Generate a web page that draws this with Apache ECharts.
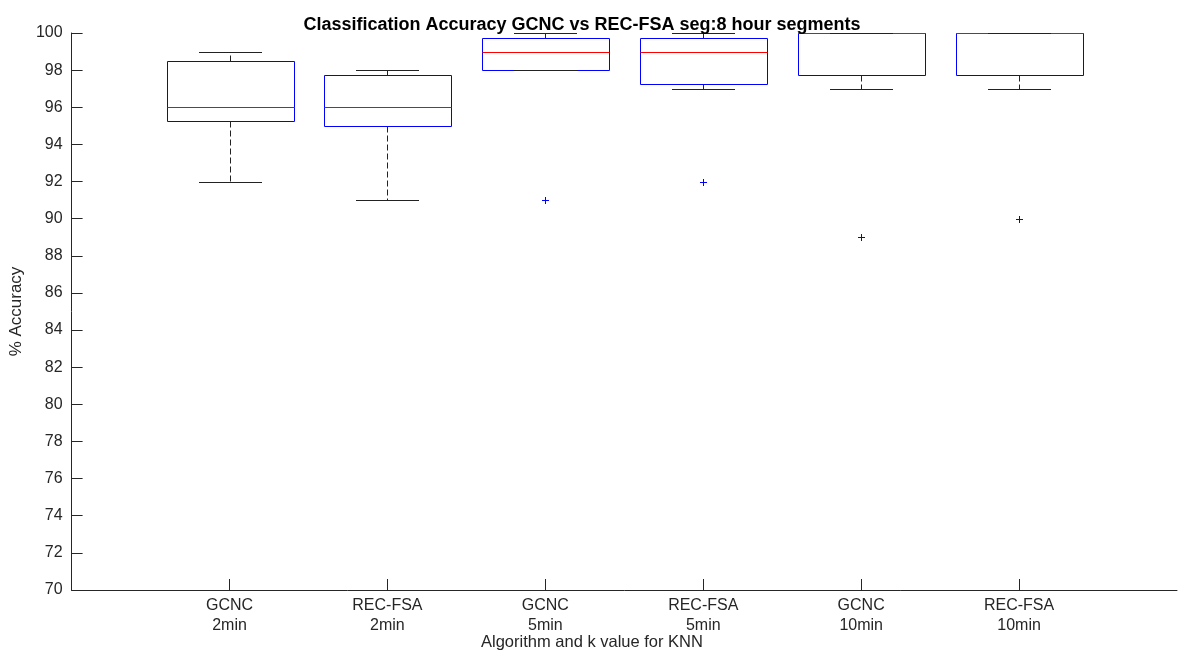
<!DOCTYPE html>
<html>
<head>
<meta charset="utf-8">
<script src="https://cdn.jsdelivr.net/npm/echarts@6/dist/echarts.min.js"></script>
<style>
html,body{margin:0;padding:0;background:#fff;}
#chart{width:1184px;height:665px;}
</style>
</head>
<body>
<div id="chart"></div>
<script>
const categories = ['GCNC\n2min', 'REC-FSA\n2min', 'GCNC\n5min', 'REC-FSA\n5min', 'GCNC\n10min', 'REC-FSA\n10min'];
const whiskerLow = [92, 91, 98, 97, 97, 97];
const q1 = [95.25, 95, 98, 97.25, 97.75, 97.75];
const median = [96, 96, 99, 99, 100, 100];
const q3 = [98.5, 97.75, 99.75, 99.75, 100, 100];
const whiskerHigh = [99, 98, 100, 100, 100, 100];
const outliers = [[], [], [91], [92], [89], [90]];
const yTicks = {min: 70, max: 100, interval: 2};

const axisCats = [''].concat(categories, ['']);
const FONT = '"Liberation Sans", Arial, Helvetica, sans-serif';
const TXT = '#262626';

const boxData = categories.map((c, i) => [i + 1, whiskerLow[i], q1[i], median[i], q3[i], whiskerHigh[i]]);
const outData = [];
outliers.forEach((arr, i) => arr.forEach(v => outData.push([i + 1, v])));

const px = (v) => Math.round(v) + 0.5;

const chart = echarts.init(document.getElementById('chart'), null, {renderer: 'canvas'});
chart.setOption({
  animation: false,
  backgroundColor: '#fff',
  title: {
    text: 'Classification Accuracy GCNC vs REC-FSA seg:8 hour segments',
    left: 577, top: 11, textAlign: 'center',
    textStyle: {fontFamily: FONT, fontSize: 18, fontWeight: 'bold', color: '#000'}
  },
  grid: {left: 69, right: 7, top: 33, bottom: 75, containLabel: false},
  xAxis: {
    type: 'category',
    data: axisCats,
    boundaryGap: false,
    axisLine: {show: true, lineStyle: {color: TXT, width: 1}},
    axisTick: {show: true, inside: true, length: 11, lineStyle: {color: TXT}, interval: (i) => i > 0 && i < axisCats.length - 1},
    axisLabel: {interval: 0, color: TXT, fontFamily: FONT, fontSize: 16, lineHeight: 20, margin: 6},
    splitLine: {show: false}
  },
  yAxis: {
    type: 'value',
    min: yTicks.min, max: yTicks.max, interval: yTicks.interval,
    name: '% Accuracy', nameLocation: 'middle', nameGap: 42, nameRotate: 90,
    nameTextStyle: {color: TXT, fontFamily: FONT, fontSize: 17},
    axisLine: {show: true, lineStyle: {color: TXT, width: 1}},
    axisTick: {show: true, inside: true, length: 11, lineStyle: {color: TXT}},
    axisLabel: {color: TXT, fontFamily: FONT, fontSize: 16, margin: 9},
    splitLine: {show: false}
  },
  graphic: [{
    type: 'text', left: 481, top: 634,
    style: {text: 'Algorithm and k value for KNN', fill: TXT, font: '16.5px ' + FONT}
  }],
  series: [{
    type: 'custom',
    data: boxData,
    encode: {x: 0, y: [1, 2, 3, 4, 5]},
    renderItem: function (params, api) {
      const x = api.value(0);
      const bw = api.size([1, 0])[0] * 0.8;
      const cx = px(api.coord([x, 0])[0]);
      const yLo = px(api.coord([x, api.value(1)])[1]);
      const yQ1 = px(api.coord([x, api.value(2)])[1]);
      const yMed = px(api.coord([x, api.value(3)])[1]);
      const yQ3 = px(api.coord([x, api.value(4)])[1]);
      const yHi = px(api.coord([x, api.value(5)])[1]);
      const l = px(cx - bw / 2), r = px(cx + bw / 2);
      const cap = bw / 4;
      const wStyle = {stroke: '#222', lineWidth: 1, lineDash: [6, 3]};
      const cStyle = {stroke: '#222', lineWidth: 1};
      return {
        type: 'group',
        children: [
          {type: 'rect', shape: {x: l, y: yQ3, width: r - l, height: yQ1 - yQ3}, style: {fill: 'none', stroke: '#0000ff', lineWidth: 1}},
          {type: 'line', shape: {x1: l, y1: yMed, x2: r, y2: yMed}, style: {stroke: '#ff0000', lineWidth: 1}},
          {type: 'line', shape: {x1: cx, y1: yQ3, x2: cx, y2: yHi}, style: wStyle},
          {type: 'line', shape: {x1: cx, y1: yQ1, x2: cx, y2: yLo}, style: wStyle},
          {type: 'line', shape: {x1: Math.round(cx - cap), y1: yHi, x2: Math.round(cx + cap), y2: yHi}, style: cStyle},
          {type: 'line', shape: {x1: Math.round(cx - cap), y1: yLo, x2: Math.round(cx + cap), y2: yLo}, style: cStyle}
        ]
      };
    }
  }, {
    type: 'custom',
    data: outData,
    encode: {x: 0, y: 1},
    renderItem: function (params, api) {
      const p = api.coord([api.value(0), api.value(1)]);
      const cx = px(p[0]), cy = px(p[1]);
      const h = 3;
      return {
        type: 'group',
        children: [
          {type: 'line', shape: {x1: cx - h - 0.5, y1: cy, x2: cx + h + 0.5, y2: cy}, style: {stroke: '#0000ff', lineWidth: 1}},
          {type: 'line', shape: {x1: cx, y1: cy - h - 0.5, x2: cx, y2: cy + h + 0.5}, style: {stroke: '#0000ff', lineWidth: 1}}
        ]
      };
    }
  }]
});
</script>
</body>
</html>
